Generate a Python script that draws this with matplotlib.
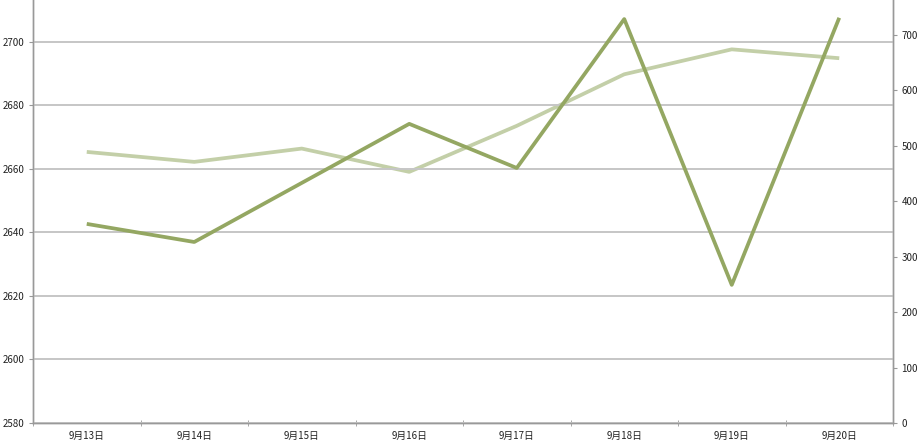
import matplotlib
matplotlib.use("Agg")
import matplotlib.pyplot as plt

plt.rcParams['font.family'] = ['Noto Sans CJK SC', 'DejaVu Sans']

dates = ['9月13日', '9月14日', '9月15日', '9月16日', '9月17日', '9月18日', '9月19日', '9月20日']
# dark line, left axis
index_vals = [2642.7, 2637.0, 2655.6, 2674.2, 2660.3, 2707.2, 2623.5, 2707.6]
# light line, right axis
volume_vals = [489, 471, 495, 453, 536, 629, 674, 658]

dark = '#94a762'
light = '#c3cfa8'
grid = '#c6c6c6'
spine = '#999999'

fig = plt.figure(figsize=(9.23, 4.44), dpi=100)
ax = fig.add_axes([33 / 923, 21 / 444, 860 / 923, 423 / 444])
ax2 = ax.twinx()

x = list(range(len(dates)))
ax2.plot(x, volume_vals, color=light, lw=2.7, solid_capstyle='butt', zorder=2)
ax.plot(x, index_vals, color=dark, lw=2.7, solid_capstyle='butt', zorder=3)
ax.set_zorder(ax2.get_zorder() + 1)
ax.patch.set_visible(False)

ax.set_xlim(-0.5, 7.5)
ax.set_ylim(2580, 2713.2)
ax2.set_ylim(0, 763)
ax.set_yticks(range(2580, 2711, 20))
ax2.set_yticks(range(0, 701, 100))

ax.set_xticks(x)
ax.set_xticklabels(dates)
ax.set_xticks([i + 0.5 for i in range(-1, 8)], minor=True)
ax.tick_params(axis='x', which='major', length=0, labelsize=7, pad=6, labelcolor='#222222')
ax.tick_params(axis='x', which='minor', length=4, direction='inout', color=spine)
ax.tick_params(axis='y', length=3, color=spine, labelsize=7, pad=3, labelcolor='#222222')
ax2.tick_params(axis='y', length=3, color=spine, labelsize=7, pad=3, labelcolor='#222222')

ax.yaxis.grid(True, color=grid, lw=1.4)
ax.set_axisbelow(True)

for a in (ax, ax2):
    a.spines['top'].set_visible(False)
    for s in ('left', 'right', 'bottom'):
        a.spines[s].set_color(spine)
        a.spines[s].set_linewidth(1)

fig.savefig('out.png', dpi=100)
